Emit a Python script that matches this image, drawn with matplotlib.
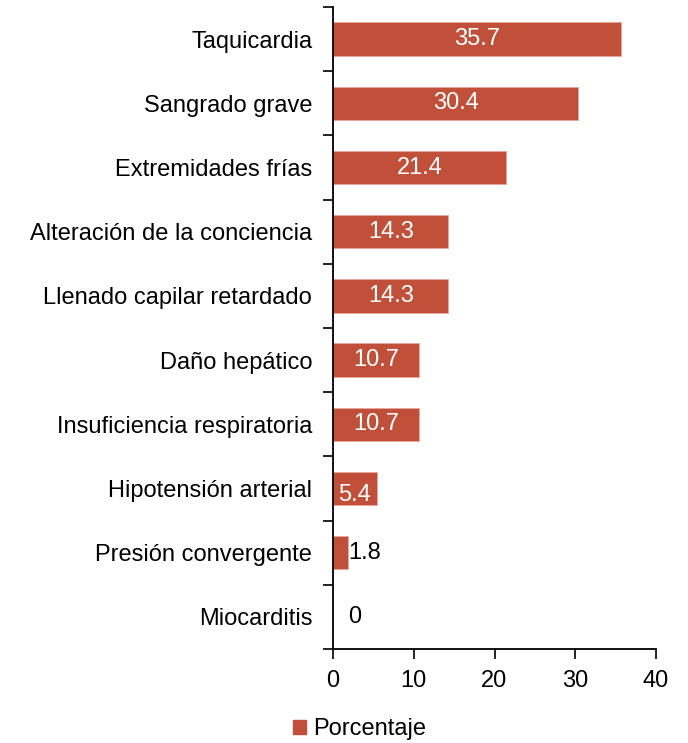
import matplotlib.pyplot as plt

plt.rcParams['font.family'] = ['Liberation Sans', 'DejaVu Sans']

categorias = ['Taquicardia', 'Sangrado grave', 'Extremidades frías',
              'Alteración de la conciencia', 'Llenado capilar retardado',
              'Daño hepático', 'Insuficiencia respiratoria',
              'Hipotensión arterial', 'Presión convergente', 'Miocarditis']
porcentaje = [35.7, 30.4, 21.4, 14.3, 14.3, 10.7, 10.7, 5.4, 1.8, 0]

color = '#C0503A'
fs = 17

fig = plt.figure(figsize=(6.88, 7.43), dpi=100)
ax = fig.add_axes([333 / 688, 1 - 649 / 743, 323 / 688, 642 / 743])

n = len(categorias)
pos = list(range(n))[::-1]
ax.barh(pos, porcentaje, height=0.52, color=color, edgecolor='#E8A8A0', linewidth=0.6)

for p, v in zip(pos, porcentaje):
    label = '%g' % v
    if v >= 10:
        ax.text(v / 2, p, label, ha='center', va='center', color='white', fontsize=fs)
    elif v >= 5:
        ax.text(v / 2, p - 0.1, label, ha='center', va='center', color='white', fontsize=fs)
    elif v > 0:
        ax.annotate(label, (v, p), xytext=(0.5, 0), textcoords='offset points',
                    ha='left', va='center', color='black', fontsize=fs)
    else:
        ax.annotate(label, (v, p), xytext=(11, 0), textcoords='offset points',
                    ha='left', va='center', color='black', fontsize=fs)

ax.set_xlim(0, 40)
ax.set_ylim(-0.5, n - 0.5)
ax.set_xticks([0, 10, 20, 30, 40])
ax.set_yticks(pos)
ax.set_yticklabels(categorias, fontsize=fs)
ax.set_yticks([i + 0.5 for i in range(-1, n)], minor=True)
ax.tick_params(axis='y', which='major', length=0, pad=15)
ax.tick_params(axis='y', which='minor', length=7, width=1.2, direction='out')
ax.tick_params(axis='x', length=7, width=1.2, direction='out', labelsize=fs, pad=8)

for s in ['top', 'right']:
    ax.spines[s].set_visible(False)
for s in ['left', 'bottom']:
    ax.spines[s].set_linewidth(1.3)

ax.legend([plt.Rectangle((0, 0), 1, 1, color=color)], ['Porcentaje'],
          loc='center', bbox_to_anchor=(360 / 688, 1 - 729 / 743),
          bbox_transform=fig.transFigure, frameon=False, fontsize=fs,
          handlelength=0.55, handleheight=0.55, handletextpad=0.3)

fig.savefig('out.png', dpi=100)
